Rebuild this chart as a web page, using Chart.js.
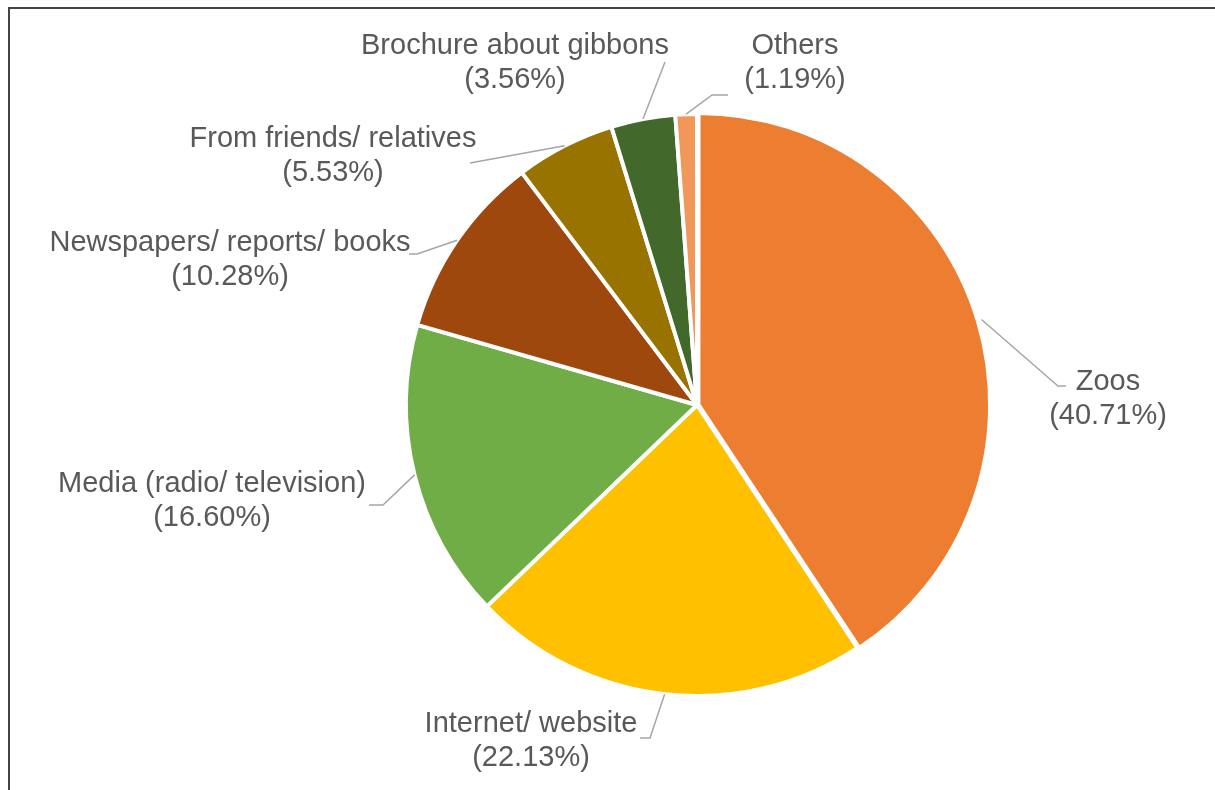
<!DOCTYPE html>
<html>
<head>
<meta charset="utf-8">
<script src="https://cdn.jsdelivr.net/npm/chart.js@4.4.1/dist/chart.umd.min.js"></script>
<style>
  html, body { margin: 0; padding: 0; background: #fff; overflow: hidden; }
  #pieChart { display: block; }
</style>
</head>
<body>
<canvas id="pieChart" width="1215" height="790"></canvas>
<script>
// source of info about gibbons (%)
const categorias = ['Zoos', 'Internet/ website', 'Media (radio/ television)', 'Newspapers/ reports/ books',
                    'From friends/ relatives', 'Brochure about gibbons', 'Others'];
const porcentajes = [40.71, 22.13, 16.60, 10.28, 5.53, 3.56, 1.19];
const colores = ['#ED7D31', '#FFC000', '#70AD47', '#9E480E', '#997300', '#43682B', '#F1975A'];
const desplazamiento = [6, 0, 0, 0, 0, 0, 0];

// label placement relative to pie centre: [text dx, text dy, elbow dx, elbow dy, end dx, end dy]
const posEtiquetas = [
  [411, -23, 361, -19, 369, -19],
  [-166, 319, -47, 333, -57, 333],
  [-485, 79, -314, 100, -328, 100],
  [-467, -162, -280, -151, -288, -151],
  [-364, -266, -227, -242, -227, -242],
  [-182, -359, -32, -343, -32, -343],
  [98, -359, 15, -310, 31, -310]
];

window.onload = main;

function main(){
    pieChart(categorias, porcentajes);
}

const etiquetasPlugin = {
  id: 'etiquetas',
  beforeDraw(chart){
    const ctx = chart.ctx;
    // frame round the figure
    ctx.save();
    ctx.strokeStyle = '#444444';
    ctx.lineWidth = 2;
    ctx.beginPath();
    ctx.moveTo(9, 800);
    ctx.lineTo(9, 8);
    ctx.lineTo(1220, 8);
    ctx.stroke();
    ctx.restore();
  },
  afterDatasetsDraw(chart){
    const ctx = chart.ctx;
    const arcs = chart.getDatasetMeta(0).data;
    const cx = arcs[1].x, cy = arcs[1].y;
    ctx.save();
    arcs.forEach((arc, i) => {
      const p = posEtiquetas[i];
      const mid = (arc.startAngle + arc.endAngle) / 2;
      const r = arc.outerRadius + desplazamiento[i];
      const sx = arc.x + Math.cos(mid) * r;
      const sy = arc.y + Math.sin(mid) * r;
      ctx.strokeStyle = '#a6a6a6';
      ctx.lineWidth = 1.5;
      ctx.beginPath();
      ctx.moveTo(sx, sy);
      ctx.lineTo(cx + p[2], cy + p[3]);
      ctx.lineTo(cx + p[4], cy + p[5]);
      ctx.stroke();

      ctx.fillStyle = '#595959';
      ctx.font = '29px "Liberation Sans", Arial, sans-serif';
      ctx.textAlign = 'center';
      ctx.textBaseline = 'middle';
      ctx.fillText(chart.data.labels[i], cx + p[0], cy + p[1]);
      ctx.fillText('(' + porcentajes[i].toFixed(2) + '%)', cx + p[0], cy + p[1] + 34);
    });
    ctx.restore();
  }
};

function pieChart(nombres, total){
    var pieChartCanvas = document.getElementById('pieChart').getContext('2d');
    var pieData = {
      labels: nombres,
      datasets: [
        {
          data: total,
          backgroundColor: colores,
          borderColor: '#ffffff',
          borderWidth: 4,
          offset: desplazamiento,
          radius: 291
        }
      ]
    };
    var pieOptions = {
      responsive: false,
      animation: false,
      layout: { padding: { left: 179, right: 0, top: 20, bottom: 0 } },
      plugins: {
        legend: { display: false },
        tooltip: { enabled: false }
      }
    };
    new Chart(pieChartCanvas, {
      type: 'pie',
      data: pieData,
      options: pieOptions,
      plugins: [etiquetasPlugin]
    });
}
</script>
</body>
</html>
